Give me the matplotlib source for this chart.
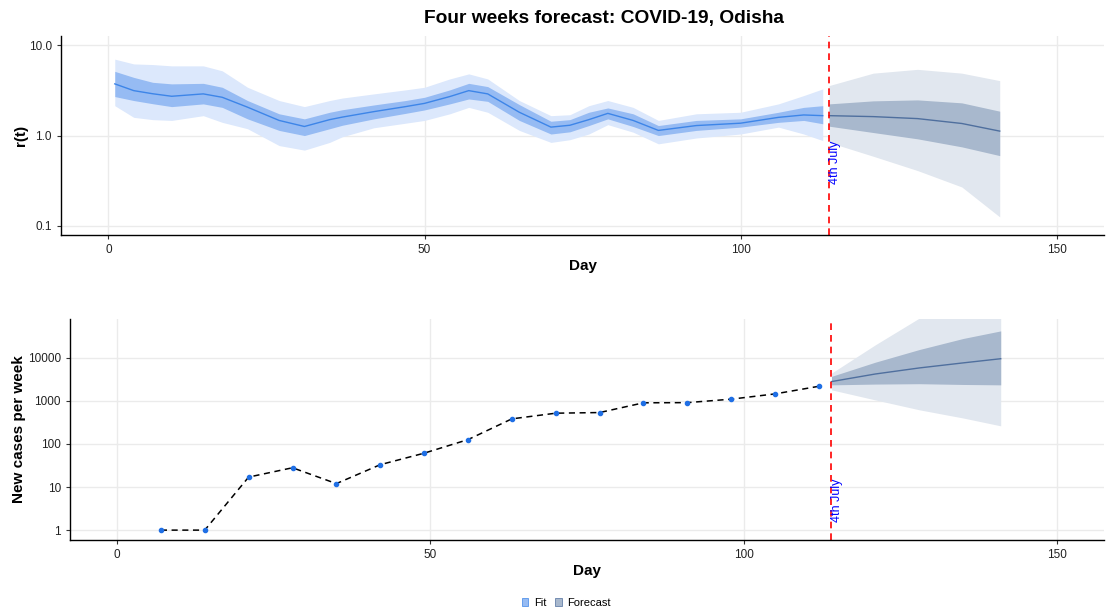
"""Four-week forecast chart: growth rate r(t) and weekly new cases, Odisha."""

import matplotlib
matplotlib.use("Agg")
import matplotlib.pyplot as plt
from matplotlib.patches import Patch

plt.rcParams["font.family"] = ["Liberation Sans", "DejaVu Sans"]

# --- r(t) fit (days 1..113) ---
fit_day = [1, 4, 7, 10, 15, 18, 22, 27, 31, 35, 37, 42, 47, 50, 54, 57, 60,
           65, 70, 73, 76, 79, 83, 87, 93, 100, 106, 110, 113]
fit_mid = [3.73, 3.14, 2.9, 2.72, 2.89, 2.65, 2.06, 1.47, 1.26, 1.5, 1.6, 1.84,
           2.09, 2.27, 2.7, 3.14, 2.89, 1.81, 1.24, 1.3, 1.5, 1.76, 1.47, 1.14,
           1.29, 1.37, 1.59, 1.69, 1.66]
fit_lo50 = [2.7, 2.44, 2.25, 2.09, 2.24, 2.05, 1.53, 1.14, 1.0, 1.19, 1.3, 1.53,
            1.76, 1.92, 2.24, 2.54, 2.39, 1.47, 1.04, 1.1, 1.29, 1.53, 1.26, 1.0,
            1.14, 1.24, 1.4, 1.47, 1.35]
fit_hi50 = [5.13, 4.4, 3.88, 3.73, 3.78, 3.42, 2.44, 1.74, 1.53, 1.81, 1.93, 2.18,
            2.44, 2.65, 3.2, 3.78, 3.48, 2.2, 1.44, 1.5, 1.81, 2.02, 1.74, 1.29,
            1.47, 1.53, 1.81, 2.05, 2.14]
fit_lo95 = [2.14, 1.59, 1.5, 1.47, 1.66, 1.4, 1.19, 0.775, 0.69, 0.84, 0.97, 1.22,
            1.37, 1.47, 1.74, 2.05, 1.81, 1.14, 0.84, 0.9, 1.04, 1.32, 1.09, 0.81,
            0.94, 1.04, 1.24, 1.04, 0.88]
fit_hi95 = [7.0, 6.2, 6.1, 5.9, 5.9, 5.2, 3.42, 2.44, 2.09, 2.44, 2.6, 2.89,
            3.2, 3.42, 4.23, 4.81, 4.23, 2.44, 1.66, 1.7, 2.14, 2.44, 2.05, 1.47,
            1.74, 1.81, 2.24, 2.77, 3.28]

# --- r(t) forecast (days 114..141) ---
fc_day = [114, 121, 128, 135, 141]
fc_mid = [1.66, 1.62, 1.54, 1.36, 1.12]
fc_lo50 = [1.27, 1.08, 0.92, 0.75, 0.60]
fc_hi50 = [2.24, 2.42, 2.48, 2.30, 1.86]
fc_lo95 = [0.84, 0.59, 0.41, 0.27, 0.126]
fc_hi95 = [3.57, 4.9, 5.4, 4.9, 4.05]

# --- weekly new cases ---
week_day = [7, 14, 21, 28, 35, 42, 49, 56, 63, 70, 77, 84, 91, 98, 105, 112]
week_cases = [1, 1, 17, 28, 12, 33, 61, 126, 382, 517, 535, 900, 909, 1094,
              1450, 2180]

# --- cases forecast ---
cfc_day = [114, 121, 128, 135, 141]
cfc_mid = [2800, 4200, 5800, 7600, 9500]
cfc_lo50 = [2350, 2450, 2500, 2400, 2350]
cfc_hi50 = [3700, 7900, 15500, 28000, 42000]
cfc_lo95 = [1800, 1050, 620, 400, 263]
cfc_hi95 = [4400, 20000, 83000, 316000, 1000000]

cutoff_day = 114

FIT_LIGHT, FIT_DARK, FIT_LINE = "#dce8fc", "#96bbf3", "#3d85e8"
FC_LIGHT, FC_DARK, FC_LINE = "#e1e7ef", "#a8b8cd", "#4f6f9e"


def style_axes(ax):
    ax.set_xlim(-7.5, 157.5)
    ax.set_xticks([0, 50, 100, 150])
    ax.grid(True, color="#ebebeb", lw=1.0)
    ax.set_axisbelow(True)
    for s in ("top", "right"):
        ax.spines[s].set_visible(False)
    for s in ("left", "bottom"):
        ax.spines[s].set_linewidth(1.0)
    ax.tick_params(labelsize=8.5, length=3, color="#333333", labelcolor="#222222")
    ax.minorticks_off()
    ax.set_xlabel("Day", fontsize=11, fontweight="bold", labelpad=2)


fig = plt.figure(figsize=(11.06, 6.12), dpi=100)
ax1 = fig.add_axes([0.0552, 0.616, 0.943, 0.325])
ax2 = fig.add_axes([0.0633, 0.1176, 0.935, 0.3612])

# top panel
ax1.fill_between(fit_day, fit_lo95, fit_hi95, color=FIT_LIGHT, lw=0)
ax1.fill_between(fit_day, fit_lo50, fit_hi50, color=FIT_DARK, lw=0)
ax1.plot(fit_day, fit_mid, color=FIT_LINE, lw=1.0)
ax1.fill_between(fc_day, fc_lo95, fc_hi95, color=FC_LIGHT, lw=0)
ax1.fill_between(fc_day, fc_lo50, fc_hi50, color=FC_DARK, lw=0)
ax1.plot(fc_day, fc_mid, color=FC_LINE, lw=1.0)
ax1.set_yscale("log")
ax1.set_ylim(10 ** -1.1, 10 ** 1.1)
ax1.set_yticks([0.1, 1.0, 10.0])
ax1.set_yticklabels(["0.1", "1.0", "10.0"])
style_axes(ax1)
ax1.set_ylabel("r(t)", fontsize=11, fontweight="bold", labelpad=1)
ax1.axvline(cutoff_day, color="red", ls=(0, (4, 3)), lw=1.2)
ax1.text(cutoff_day + 0.9, 0.5, "4th July", color="blue", rotation=90,
         ha="center", va="center", fontsize=9)
fig.text(0.546, 0.969, "Four weeks forecast: COVID-19, Odisha", fontsize=13.8,
         fontweight="bold", ha="center", va="center")

# bottom panel
ax2.fill_between(cfc_day, cfc_lo95, cfc_hi95, color=FC_LIGHT, lw=0)
ax2.fill_between(cfc_day, cfc_lo50, cfc_hi50, color=FC_DARK, lw=0)
ax2.plot(cfc_day, cfc_mid, color=FC_LINE, lw=1.0)
ax2.plot(week_day, week_cases, color="black", ls=(0, (4, 3)), lw=1.1, zorder=3)
ax2.scatter(week_day, week_cases, s=9, color="#1f6fe5", zorder=4)
ax2.set_yscale("log")
ax2.set_ylim(10 ** -0.23, 10 ** 4.9)
ax2.set_yticks([1, 10, 100, 1000, 10000])
ax2.set_yticklabels(["1", "10", "100", "1000", "10000"])
style_axes(ax2)
ax2.set_ylabel("New cases per week", fontsize=11, fontweight="bold", labelpad=1)
ax2.axvline(cutoff_day, color="red", ls=(0, (4, 3)), lw=1.2)
ax2.text(cutoff_day + 0.9, 5, "4th July", color="blue", rotation=90,
         ha="center", va="center", fontsize=9)

handles = [Patch(facecolor=FIT_DARK, edgecolor=FIT_LINE, lw=0.5),
           Patch(facecolor=FC_DARK, edgecolor=FC_LINE, lw=0.5)]
fig.legend(handles, ["Fit", "Forecast"], loc="center", bbox_to_anchor=(0.512, 0.015),
           ncol=2, frameon=False, fontsize=8, handlelength=0.6, handleheight=0.8,
           handletextpad=0.5, columnspacing=0.8)

fig.savefig("out.png", dpi=100)
